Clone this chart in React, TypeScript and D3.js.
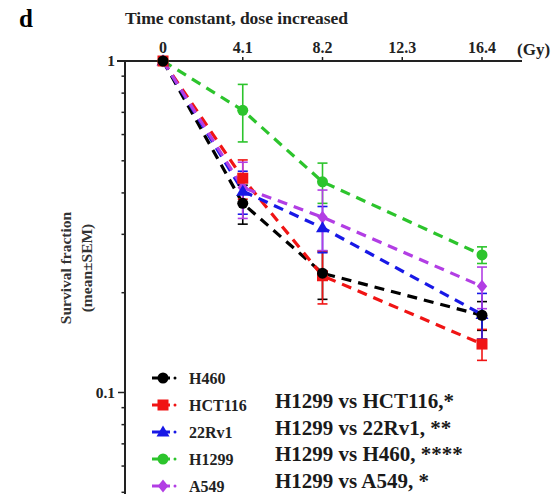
import React from 'react';
import * as d3 from 'd3';

const doses = [0, 4.1, 8.2, 16.4];
const xTicks = [0, 4.1, 8.2, 12.3, 16.4];

const h460 = [1, 0.372, 0.229, 0.171];
const h460Err = [0, 0.05, 0.038, 0.017];
const hct116 = [1, 0.443, 0.225, 0.14];
const hct116Err = [0, 0.06, 0.04, 0.015];
const rv22 = [1, 0.405, 0.314, 0.172];
const rv22Err = [0, 0.06, 0.05, 0.027];
const h1299 = [1, 0.71, 0.432, 0.26];
const h1299Err = [0, 0.14, 0.06, 0.015];
const a549 = [1, 0.415, 0.338, 0.209];
const a549Err = [0, 0.08, 0.07, 0.03];

const series = [
  { name: 'H460', values: h460, err: h460Err, color: '#000000', shape: 'circle' },
  { name: 'HCT116', values: hct116, err: hct116Err, color: '#f01414', shape: 'square' },
  { name: '22Rv1', values: rv22, err: rv22Err, color: '#1818e6', shape: 'triangle' },
  { name: 'H1299', values: h1299, err: h1299Err, color: '#2cc42c', shape: 'circle' },
  { name: 'A549', values: a549, err: a549Err, color: '#b23ee4', shape: 'diamond' },
];

const comparisons = [
  'H1299 vs HCT116,*',
  'H1299 vs 22Rv1, **',
  'H1299 vs H460, ****',
  'H1299 vs A549, *',
];

const minorTicks = [0.05, 0.06, 0.07, 0.08, 0.09, 0.2, 0.3, 0.4, 0.5, 0.6, 0.7, 0.8, 0.9];

const serif = '"Liberation Serif", "Times New Roman", serif';

const Marker = ({ shape, x, y, color, s = 1 }) => {
  if (shape === 'circle') return <circle cx={x} cy={y} r={5.5 * s} fill={color} />;
  if (shape === 'square') return <rect x={x - 5.5 * s} y={y - 5.5 * s} width={11 * s} height={11 * s} fill={color} />;
  const r = 6.5 * s;
  if (shape === 'triangle') {
    return <path d={`M${x},${y - r}L${x + r},${y + r * 0.7}L${x - r},${y + r * 0.7}Z`} fill={color} />;
  }
  return <path d={`M${x},${y - r}L${x + r * 0.8},${y}L${x},${y + r}L${x - r * 0.8},${y}Z`} fill={color} />;
};

export default function App() {
  const width = 552, height = 494;
  const x = d3.scaleLinear().domain([0, 16.4]).range([163, 482]);
  const y = d3.scaleLog().domain([0.1, 1]).range([392.5, 61]);
  const axisX = 125;
  const line = d3.line<number>().x((d, i) => x(doses[i])).y((d) => y(d));

  return (
    <svg width={width} height={height} style={{ position: 'absolute', left: 0, top: 0, background: '#fff' }} fontFamily={serif}>
      <text x={19} y={27} fontSize={25} fontWeight="bold">d</text>
      <text x={125} y={24} fontSize={17.5} fontWeight="bold" fill="#222">Time constant, dose increased</text>

      {/* top x axis */}
      <line x1={117} x2={522} y1={y(1)} y2={y(1)} stroke="#222" strokeWidth={2} />
      {xTicks.map((t) => (
        <g key={t}>
          <line x1={x(t)} x2={x(t)} y1={y(1)} y2={y(1) - 4} stroke="#222" strokeWidth={1.5} />
          <text x={x(t)} y={53} fontSize={16} fontWeight="bold" textAnchor="middle" fill="#222">{t}</text>
        </g>
      ))}
      <text x={517} y={55} fontSize={17} fontWeight="bold" fill="#222">(Gy)</text>

      {/* left y axis */}
      <line x1={axisX} x2={axisX} y1={y(1) - 1} y2={height} stroke="#222" strokeWidth={2} />
      {[0.1].map((t) => (
        <line key={t} x1={axisX - 7} x2={axisX} y1={y(t)} y2={y(t)} stroke="#222" strokeWidth={1.5} />
      ))}
      {[1, 0.1].map((t) => (
        <text key={t} x={115} y={y(t) + 5} fontSize={15.5} fontWeight="bold" textAnchor="end" fill="#222">{t}</text>
      ))}
      {minorTicks.map((t) => (
        <line key={t} x1={axisX - 3.5} x2={axisX} y1={y(t)} y2={y(t)} stroke="#222" strokeWidth={1.5} />
      ))}
      <text transform="translate(71,268) rotate(-90)" fontSize={15.5} fontWeight="bold" textAnchor="middle" fill="#333">Survival fraction</text>
      <text transform="translate(92,268) rotate(-90)" fontSize={15.5} fontWeight="bold" textAnchor="middle" fill="#333">(mean±SEM)</text>

      {/* lines */}
      {series.map((s) => (
        <path key={s.name} d={line(s.values) || ''} fill="none" stroke={s.color} strokeWidth={3.2} strokeDasharray="10,7" />
      ))}
      {/* error bars */}
      {series.map((s) => (
        <g key={s.name} stroke={s.color} strokeWidth={1.6}>
          {s.values.map((v, i) => s.err[i] > 0 && (
            <g key={i}>
              <line x1={x(doses[i])} x2={x(doses[i])} y1={y(v + s.err[i])} y2={y(v - s.err[i])} />
              <line x1={x(doses[i]) - 5} x2={x(doses[i]) + 5} y1={y(v + s.err[i])} y2={y(v + s.err[i])} />
              <line x1={x(doses[i]) - 5} x2={x(doses[i]) + 5} y1={y(v - s.err[i])} y2={y(v - s.err[i])} />
            </g>
          ))}
        </g>
      ))}
      {/* markers */}
      {[...series].reverse().map((s) => (
        <g key={s.name}>
          {s.values.map((v, i) => (
            <Marker key={i} shape={s.shape} x={x(doses[i])} y={y(v)} color={s.color} />
          ))}
        </g>
      ))}

      {/* legend */}
      {series.map((s, i) => {
        const ly = 378 + i * 27;
        return (
          <g key={s.name}>
            <line x1={152} x2={170} y1={ly} y2={ly} stroke={s.color} strokeWidth={3} />
            <circle cx={175} cy={ly} r={1.5} fill={s.color} />
            <Marker shape={s.shape} x={163} y={ly} color={s.color} s={1} />
            <text x={189} y={ly + 6} fontSize={16} fontWeight="bold" fill="#222">{s.name}</text>
          </g>
        );
      })}
      {comparisons.map((c, i) => (
        <text key={c} x={275} y={408 + i * 26.7} fontSize={21} fontWeight="bold" fill="#1a1a1a">{c}</text>
      ))}
    </svg>
  );
}
